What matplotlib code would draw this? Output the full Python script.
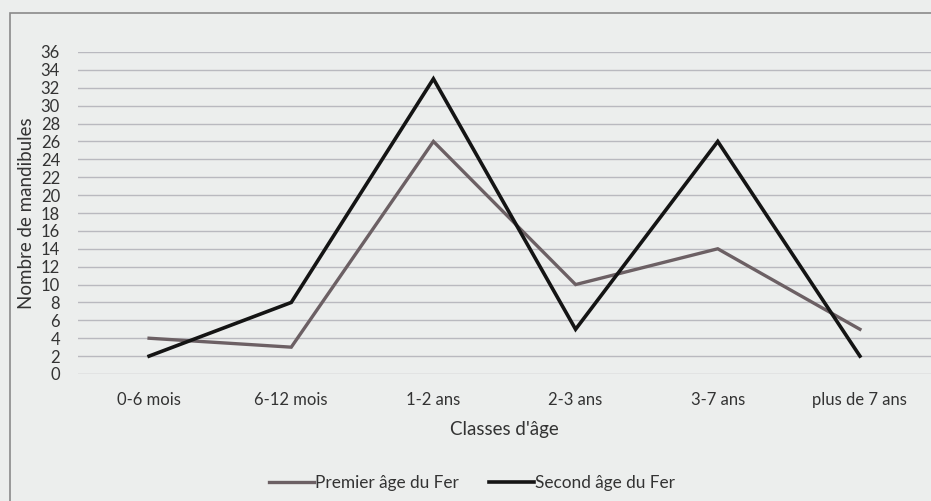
import matplotlib
matplotlib.use("Agg")
import matplotlib.pyplot as plt
from matplotlib.patches import Rectangle

categories = ["0-6 mois", "6-12 mois", "1-2 ans", "2-3 ans", "3-7 ans", "plus de 7 ans"]
premier = [4, 3, 26, 10, 14, 5]
second = [2, 8, 33, 5, 26, 2]
yticks = list(range(0, 37, 2))

plt.rcParams['font.family'] = ['Lato', 'DejaVu Sans']
W, H = 931, 501
bg = "#eceeed"
fig = plt.figure(figsize=(W / 100, H / 100), dpi=100, facecolor=bg)

# chart frame
fig.patches.append(Rectangle((10 / W, -0.05), 1.0, (H - 13) / H + 0.05,
                             transform=fig.transFigure, fill=False,
                             edgecolor="#8a8a8a", linewidth=1.2))

left, right = 78 / W, 1.0
bottom, top = (H - 374) / H, (H - 52) / H
ax = fig.add_axes([left, bottom, right - left, top - bottom])
ax.set_facecolor(bg)

x = list(range(len(categories)))
ax.plot(x, premier, color="#6c6064", linewidth=2.4, solid_joinstyle="miter",
        label="Premier âge du Fer")
ax.plot(x, second, color="#141414", linewidth=2.6, solid_joinstyle="miter",
        label="Second âge du Fer")

ax.set_xlim(-0.5, len(categories) - 0.5)
ax.set_ylim(0, 36)
ax.set_yticks(yticks)
ax.set_yticklabels([str(v) for v in yticks], fontsize=12, color="#333333")
ax.set_xticks(x)
ax.set_xticklabels(categories, fontsize=12, color="#333333")
ax.yaxis.grid(True, color="#b9b9bf", linewidth=1.0)
ax.set_axisbelow(True)
ax.tick_params(axis="both", length=0)
ax.tick_params(axis="y", pad=13)
ax.tick_params(axis="x", pad=13)
for s in ax.spines.values():
    s.set_visible(False)

ax.set_ylabel("Nombre de mandibules", fontsize=13.5, color="#333333", labelpad=4)
ax.set_xlabel("Classes d'âge", fontsize=13.5, color="#333333", labelpad=9)

leg = fig.legend(loc="center", bbox_to_anchor=(472 / W, (H - 483) / H), ncol=2,
                 frameon=False, fontsize=12.4, handlelength=2.6, handletextpad=0.05,
                 columnspacing=1.8)
for t in leg.get_texts():
    t.set_color("#333333")

fig.savefig("out.png", dpi=100, facecolor=bg)
